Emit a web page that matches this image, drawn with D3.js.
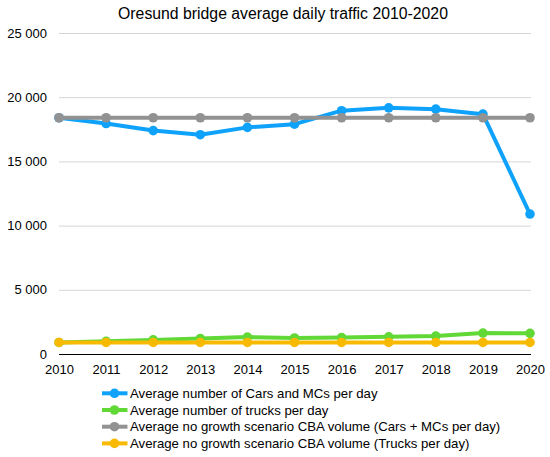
<!DOCTYPE html>
<html>
<head>
<meta charset="utf-8">
<script src="https://cdn.jsdelivr.net/npm/d3@7"></script>
<style>
  body { margin: 0; background: #fff; }
  svg { display: block; font-family: "Liberation Sans", Arial, Helvetica, sans-serif; }
</style>
</head>
<body>
<div id="chart"></div>
<script>
const width = 550;
const height = 457;

// Data
const years = ["2010", "2011", "2012", "2013", "2014", "2015", "2016", "2017", "2018", "2019", "2020"];
const carsPerDay = [18400, 17950, 17400, 17080, 17650, 17900, 18950, 19170, 19070, 18680, 10900];
const trucksPerDay = [900, 990, 1100, 1200, 1320, 1250, 1280, 1340, 1400, 1630, 1610];
const carsNoGrowth = [18400, 18400, 18400, 18400, 18400, 18400, 18400, 18400, 18400, 18400, 18400];
const trucksNoGrowth = [900, 900, 900, 900, 900, 900, 900, 900, 900, 900, 900];
const yTicks = [0, 5000, 10000, 15000, 20000, 25000];

const seriesNames = [
  "Average number of Cars and MCs per day",
  "Average number of trucks per day",
  "Average no growth scenario CBA volume (Cars + MCs per day)",
  "Average no growth scenario CBA volume (Trucks per day)"
];
const seriesValues = [carsPerDay, trucksPerDay, carsNoGrowth, trucksNoGrowth];
const seriesColors = ["#0fa2fb", "#61d836", "#929292", "#f8ba00"];

const plot = { left: 59, right: 530, top: 33, bottom: 354 };

const x = d3.scalePoint().domain(years).range([plot.left, plot.right]);
const y = d3.scaleLinear().domain([0, 25000]).range([plot.bottom, plot.top]);

const svg = d3.select("#chart").append("svg")
  .attr("width", width)
  .attr("height", height);

// title
svg.append("text")
  .attr("x", 283)
  .attr("y", 19)
  .attr("text-anchor", "middle")
  .style("font-size", "15.8px")
  .style("fill", "#000")
  .text("Oresund bridge average daily traffic 2010-2020");

// y axis with gridlines
const fmt = d => d3.format(",")(d).replace(",", " ");
const yAxis = svg.append("g")
  .attr("transform", `translate(${plot.left},0)`)
  .call(d3.axisLeft(y).tickValues(yTicks).tickFormat(fmt).tickSize(-(plot.right - plot.left + 1)).tickPadding(12));
yAxis.select(".domain").remove();
yAxis.selectAll(".tick line")
  .attr("stroke", d => d === 0 ? "#000" : "#d6d6d6")
  .attr("stroke-width", 1);
yAxis.selectAll(".tick text")
  .style("font-size", "13px")
  .style("font-family", "'Liberation Sans', Arial, sans-serif")
  .attr("fill", "#000");

// x axis labels
const xAxis = svg.append("g")
  .attr("transform", `translate(0,${plot.bottom})`)
  .call(d3.axisBottom(x).tickSize(0).tickPadding(11));
xAxis.select(".domain").remove();
xAxis.selectAll(".tick text")
  .style("font-size", "13px")
  .style("font-family", "'Liberation Sans', Arial, sans-serif")
  .attr("fill", "#000");

// series
const line = d3.line()
  .x((d, i) => x(years[i]))
  .y(d => y(d));

seriesValues.forEach((vals, s) => {
  const g = svg.append("g");
  g.append("path")
    .datum(vals)
    .attr("d", line)
    .attr("fill", "none")
    .attr("stroke", seriesColors[s])
    .attr("stroke-width", 4)
    .attr("stroke-linejoin", "round");
  g.selectAll("circle")
    .data(vals)
    .join("circle")
      .attr("cx", (d, i) => x(years[i]))
      .attr("cy", d => y(d))
      .attr("r", 4.8)
      .attr("fill", seriesColors[s]);
});

// legend
const legend = svg.append("g").attr("transform", "translate(102,393.3)");
seriesNames.forEach((name, i) => {
  const row = legend.append("g").attr("transform", `translate(0,${i * 16.7})`);
  row.append("line")
    .attr("x1", 0).attr("x2", 25.5)
    .attr("y1", 0).attr("y2", 0)
    .attr("stroke", seriesColors[i])
    .attr("stroke-width", 4);
  row.append("circle")
    .attr("cx", 12.5).attr("cy", 0).attr("r", 4.8)
    .attr("fill", seriesColors[i]);
  row.append("text")
    .attr("x", 28)
    .attr("y", 0)
    .attr("dy", "0.35em")
    .style("font-size", "13.2px")
    .style("fill", "#000")
    .text(name);
});
</script>
</body>
</html>
